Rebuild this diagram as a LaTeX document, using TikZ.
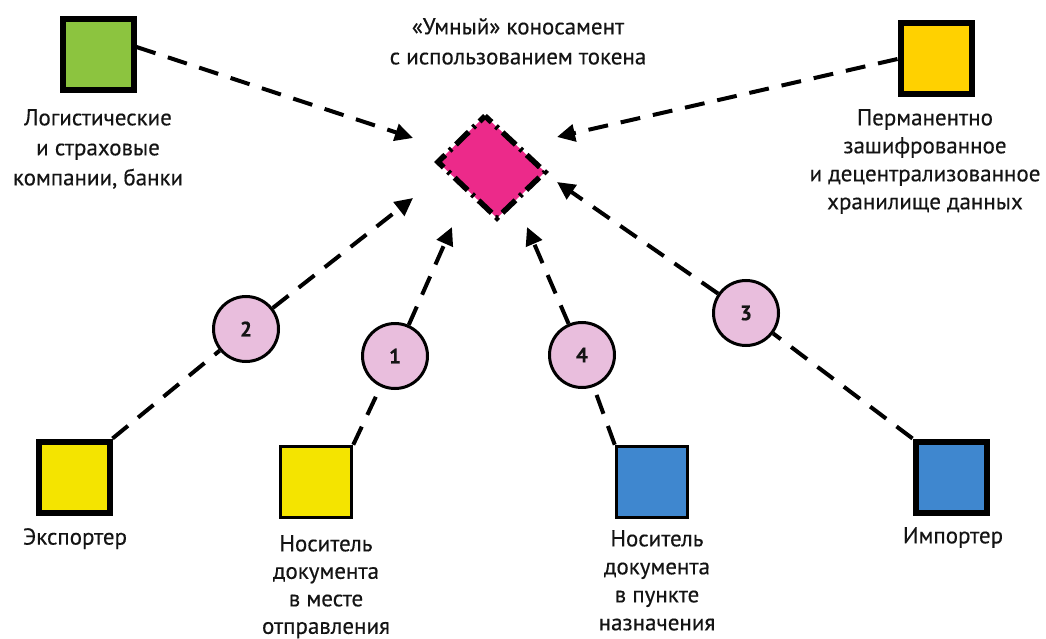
\documentclass[tikz,border=0pt]{standalone}
\usepackage{fontspec}
\setmainfont{PT Sans}[FakeBold=0.35]
\usetikzlibrary{arrows.meta}
\definecolor{cgreen}{HTML}{8CC43F}
\definecolor{cgold}{HTML}{FFD100}
\definecolor{cyellow}{HTML}{F4E400}
\definecolor{cblue}{HTML}{3F87CF}
\definecolor{cmag}{HTML}{EC2A8A}
\definecolor{cpink}{HTML}{E9BEDD}
\definecolor{ctext}{HTML}{141414}
\begin{document}
\begin{tikzpicture}[x=1pt,y=-1pt,
  thickbox/.style={draw=black, line width=6pt, minimum size=71pt, inner sep=0pt},
  thinbox/.style={draw=black, line width=3.5pt, minimum size=71pt, inner sep=0pt},
  lbl/.style={align=center, font=\fontsize{23}{28}\selectfont, text=ctext, inner sep=0pt, anchor=north},
  num/.style={circle, draw=black, line width=3pt, fill=cpink, minimum size=65pt, inner sep=0pt, font=\fontsize{21}{24}\selectfont\bfseries, text=ctext},
  conn/.style={line width=4pt, dash pattern=on 20pt off 13pt},
  arr/.style={conn, -{Triangle[length=18pt,width=17pt]}},
  diam/.style={draw=black, line width=5.5pt, fill=cmag, dash pattern=on 18pt off 6pt on 3pt off 6pt, dash phase=9pt}
]
\useasboundingbox (0,0) rectangle (1046,639);

% squares
\node[thickbox, fill=cgreen] (g) at (98,55) {};
\node[thickbox, fill=cgold] (gd) at (936,59) {};
\node[thickbox, fill=cyellow] (ex) at (74,477) {};
\node[thinbox, fill=cyellow] (ca) at (316,482) {};
\node[thinbox, fill=cblue] (cb) at (652,482) {};
\node[thickbox, fill=cblue] (im) at (951,477) {};

% diamond
\draw[diam] (485,116) -- (545,172) -- (497,218) -- (438,162) -- cycle;

% arrow tip coordinates
\coordinate (tg) at (413,138);
\coordinate (tgd) at (557,137);
\coordinate (t1) at (452,227);
\coordinate (t2) at (413,198);
\coordinate (t3) at (557,182);
\coordinate (t4) at (527,227);

% circles
\node[num] (c2) at (246,329) {2};
\node[num] (c1) at (395,356) {1};
\node[num] (c4) at (582,355) {4};
\node[num] (c3) at (746,313) {3};

% connectors
\draw[arr] ([yshift=8pt]g.east) -- (tg);
\draw[arr] (gd.west) -- (tgd);
\draw[conn] (ex.north east) -- (c2);
\draw[arr] (c2) -- (t2);
\draw[conn] (ca.north east) -- (c1);
\draw[arr] (c1) -- (t1);
\draw[conn] (cb.north west) -- (c4);
\draw[arr] (c4) -- (t4);
\draw[conn] (im.north west) -- (c3);
\draw[arr] (c3) -- (t3);

% labels
\node[lbl, font=\fontsize{23}{30}\selectfont] (title) at (518,18) {«Умный» коносамент\\с использованием токена};
\node[lbl, font=\fontsize{23}{30}\selectfont] (lg) at (98,109) {Логистические\\и страховые\\компании, банки};
\node[lbl] (lgd) at (925,109) {Перманентно\\зашифрованное\\и децентрализованное\\хранилище данных};
\node[lbl] (lex) at (75,528) {Экспортер};
\node[lbl] (lim) at (953,527) {Импортер};
\node[lbl, font=\fontsize{23}{27.5}\selectfont] (lca) at (326,535) {Носитель\\документа\\в месте\\отправления};
\node[lbl] (lcb) at (657,530) {Носитель\\документа\\в пункте\\назначения};
\end{tikzpicture}
\end{document}
